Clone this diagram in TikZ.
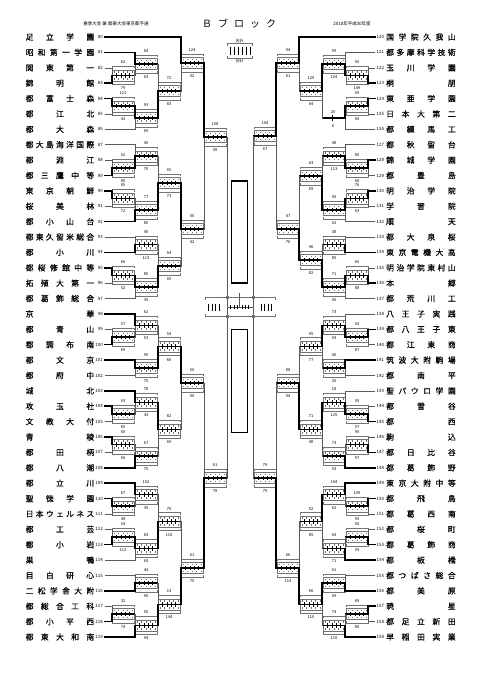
\documentclass[tikz,border=0pt]{standalone}
\usepackage{fontspec}
\setmainfont{Noto Sans CJK JP}
\newfontfamily\schoolfont[FakeBold=0.4]{Noto Sans CJK JP}
\makeatletter
\def\sp@end{\sp@end}
\def\sp@loop#1{\ifx#1\sp@end\else#1\hfill\expandafter\sp@loop\fi}
\newcommand\spreadname[2]{\makebox[#1][s]{\expandafter\sp@loop#2\sp@end\unskip}}
\makeatother
\tikzset{
  won/.style={line width=1.6pt,line cap=rect},
  lost/.style={line width=0.45pt,black!65},
  cell/.style={line width=0.35pt,black!55},
  score/.style={font=\fontsize{4}{4}\selectfont,inner sep=0pt},
  seed/.style={font=\fontsize{4.4}{5}\selectfont,inner sep=0pt},
  school/.style={font=\schoolfont\fontsize{7.8}{8}\selectfont,inner sep=0pt},
}
% score box: left edge, middle, upper score, lower score
\newcommand\scorebox[4]{%
  \draw[cell] (#1,#2-7) -- (#1,#2-9) -- (#1+22,#2-9) -- (#1+22,#2-7);
  \draw[cell] (#1,#2+7) -- (#1,#2+9) -- (#1+22,#2+9) -- (#1+22,#2+7);
  \draw[cell] (#1,#2-5.5) rectangle (#1+22,#2+5.5);
  \foreach \k in {0,...,4} {
    \draw[cell] (#1+2.2+4.4*\k,#2-4.2) -- ++(0,1.5);
    \draw[cell] (#1+2.2+4.4*\k,#2+2.7) -- ++(0,1.5);
  }
  \node[score] at (#1+11,#2-13) {#3};
  \node[score] at (#1+11,#2+13) {#4};
}
\newcommand\game[9]{%
  \coordinate (#1-in) at (#2+\gIn,#3);
  \coordinate (#1) at (#2+\gOut,#3);
  \scorebox{#2}{#3}{#6}{#7}
  \draw[#8] (#4) -| (#1-in);
  \draw[#9] (#5) -| (#1-in);
  \draw[won] (#1-in) -- (#1);
  \foreach \k in {1,...,4} \draw[line width=0.4pt] (#2+4.4*\k,#3-2.2) -- (#2+4.4*\k,#3+2.2);
}
\newcommand\gameL{\def\gIn{0}\def\gOut{22}\game}
\newcommand\gameR{\def\gIn{22}\def\gOut{0}\game}
% walkover, upper side goes on
\newcommand\walkR[7]{%
  \coordinate (#1-in) at (#2+22,#3);
  \coordinate (#1) at (#2,#3);
  \draw[lost] (#5) -| (#1-in);
  \draw[won] (#4) -| (#1-in);
  \draw[won] (#1-in) -- (#1);
  \draw[line width=0.5pt] (#2+9,#3-3) -- (#2+9,#3+3);
  \node[score] at (#2+10,#3-5.5) {#6};
  \node[score] at (#2+10,#3+8) {#7};
}
\begin{document}
\begin{tikzpicture}[x=1pt,y=-1pt]
  \fill[white] (0,0) rectangle (481,680);
  \useasboundingbox (0,0) rectangle (481,680);
  % headings
  \node[font=\fontsize{4.5}{5}\selectfont] (headL) at (116,23.5) {春季大会 兼 関東大会東京都予選};
  \node[font=\fontsize{10}{10}\selectfont,inner sep=0pt] (title) at (239,23.5) {\spreadname{74pt}{Ｂブロック}};
  \node[font=\fontsize{4.5}{5}\selectfont] (headR) at (352,23.5) {2018年平成30年度};
  % legend
  \node[score] (legT) at (239.5,41) {合計};
  \node[score] (legB) at (239.5,61) {合計};
  \draw[cell] (227,45.5) -- (227,43.5) -- (252,43.5) -- (252,45.5);
  \draw[cell] (227,56) -- (227,58) -- (252,58) -- (252,56);
  \foreach \x in {230.5,234.5,238.5,242.5,246.5,250} \draw[line width=0.45pt] (\x,46.5) -- (\x,55);
  % schools
  \foreach \i/\nm in {80/足立学園,81/昭和第一学園,82/関東第一,83/錦明館,84/都富士森,85/都江北,86/都大森,
      87/都大島海洋国際,88/都淵江,89/都三鷹中等,90/東京朝鮮,91/桜美林,92/都小山台,93/都東久留米総合,
      94/都小川,95/都桜修館中等,96/拓殖大第一,97/都葛飾総合,98/京華,99/都青山,100/都調布南,
      101/都文京,102/都府中,103/城北,104/攻玉社,105/文教大付,106/青稜,107/都田柄,108/都八潮,
      109/都立川,110/聖徳学園,111/日本ウェルネス,112/都工芸,113/都小岩,114/巣鴨,115/目白研心,
      116/二松学舎大附,117/都総合工科,118/都小平西,119/都東大和南} {
    \coordinate (t\i) at (105,{37+(\i-80)*15.3846});
    \node[seed,anchor=east] (n\i) at (103,{37+(\i-80)*15.3846}) {\i};
    \node[school,anchor=west] (s\i) at (25.5,{37+(\i-80)*15.3846}) {\spreadname{68.5pt}{\nm}};
  }
  \foreach \i/\nm in {120/国学院久我山,121/都多摩科学技術,122/玉川学園,123/桐朋,124/東亜学園,125/日本大第二,
      126/都練馬工,127/都秋留台,128/錦城学園,129/都豊島,130/明治学院,131/学習院,132/順天,133/都大泉桜,
      134/東京電機大高,135/明治学院東村山,136/本郷,137/都荒川工,138/八王子実践,139/都八王子東,
      140/都江東商,141/筑波大附駒場,142/都南平,143/聖パウロ学園,144/都雪谷,145/都西,146/駒込,
      147/都日比谷,148/都葛飾野,149/東京大附中等,150/都飛鳥,151/都葛西南,152/都桜町,153/都葛飾商,
      154/都板橋,155/都つばさ総合,156/都美原,157/暁星,158/都足立新田,159/早稲田実業} {
    \coordinate (t\i) at (375,{37+(\i-120)*15.3846});
    \node[seed,anchor=west] (n\i) at (376.5,{37+(\i-120)*15.3846}) {\i};
    \node[school,anchor=west] (s\i) at (386,{37+(\i-120)*15.3846}) {\spreadname{69.5pt}{\nm}};
  }
  % left half
  \gameL{l01}{112}{75.46}{t82}{t83}{62}{79}{lost}{won}
  \gameL{l02}{112}{106.23}{t84}{t85}{121}{42}{won}{lost}
  \gameL{l03}{135}{63.92}{t81}{l01}{64}{63}{won}{lost}
  \gameL{l04}{135}{117.77}{l02}{t86}{93}{65}{won}{lost}
  \gameL{l05}{158}{90.85}{l03}{l04}{72}{83}{lost}{won}
  \gameL{l06}{181}{63}{t80}{l05}{124}{32}{won}{lost}
  \gameL{l07}{112}{167.77}{t88}{t89}{52}{80}{lost}{won}
  \gameL{l08}{135}{156.23}{t87}{l07}{40}{70}{lost}{won}
  \gameL{l09}{112}{198.54}{t90}{t91}{85}{72}{won}{lost}
  \gameL{l10}{135}{210.08}{l09}{t92}{77}{80}{lost}{won}
  \gameL{l11}{158}{183.15}{l08}{l10}{65}{73}{lost}{won}
  \gameL{l12}{135}{244.69}{t93}{t94}{40}{113}{lost}{won}
  \gameL{l13}{112}{275.46}{t95}{t96}{66}{52}{won}{lost}
  \gameL{l14}{135}{287}{l13}{t97}{80}{39}{won}{lost}
  \gameL{l15}{158}{265.85}{l12}{l14}{54}{69}{lost}{won}
  \gameL{l16}{181}{229}{l11}{l15}{50}{42}{won}{lost}
  \gameL{l17}{204}{137}{l06}{l16}{108}{58}{won}{lost}
  \gameL{l18}{112}{337}{t99}{t100}{57}{69}{lost}{won}
  \gameL{l19}{135}{325.46}{t98}{l18}{62}{53}{won}{lost}
  \gameL{l20}{135}{367.77}{t101}{t102}{99}{75}{won}{lost}
  \gameL{l21}{158}{346.62}{l19}{l20}{54}{66}{lost}{won}
  \gameL{l22}{112}{413.92}{t104}{t105}{63}{65}{won}{lost}
  \gameL{l23}{135}{402.38}{t103}{l22}{78}{43}{won}{lost}
  \gameL{l24}{112}{444.69}{t106}{t107}{50}{66}{won}{lost}
  \gameL{l25}{135}{456.23}{l24}{t108}{67}{75}{lost}{won}
  \gameL{l26}{158}{429.31}{l23}{l25}{82}{69}{won}{lost}
  \gameL{l27}{181}{383}{l21}{l26}{50}{90}{won}{lost}
  \gameL{l28}{112}{506.23}{t110}{t111}{67}{38}{won}{lost}
  \gameL{l29}{135}{494.69}{t109}{l28}{102}{39}{won}{lost}
  \gameL{l30}{112}{537}{t112}{t113}{54}{112}{lost}{won}
  \gameL{l31}{135}{548.54}{l30}{t114}{83}{65}{won}{lost}
  \gameL{l32}{158}{521.62}{l29}{l31}{79}{110}{lost}{won}
  \gameL{l33}{135}{583.15}{t115}{t116}{44}{90}{lost}{won}
  \gameL{l34}{112}{613.92}{t117}{t118}{32}{74}{lost}{won}
  \gameL{l35}{135}{625.46}{l34}{t119}{50}{94}{lost}{won}
  \gameL{l36}{158}{604.31}{l33}{l35}{13}{144}{lost}{won}
  \gameL{l37}{181}{568}{l32}{l36}{61}{75}{lost}{won}
  \gameL{l38}{204}{478}{l27}{l37}{61}{78}{lost}{won}
  % right half
  \gameR{r01}{346}{75.46}{t122}{t123}{50}{149}{lost}{won}
  \gameR{r02}{346}{106.23}{t124}{t125}{59}{65}{won}{lost}
  \gameR{r03}{323}{63.92}{t121}{r01}{59}{124}{lost}{won}
  \walkR{r04}{323}{117.77}{r02}{t126}{20}{0}
  \gameR{r05}{300}{90.85}{r03}{r04}{129}{64}{won}{lost}
  \gameR{r06}{277}{63}{t120}{r05}{94}{61}{won}{lost}
  \gameR{r07}{346}{167.77}{t128}{t129}{80}{68}{won}{lost}
  \gameR{r08}{323}{156.23}{t127}{r07}{48}{113}{lost}{won}
  \gameR{r09}{346}{198.54}{t130}{t131}{76}{63}{won}{lost}
  \gameR{r10}{323}{210.08}{r09}{t132}{90}{52}{won}{lost}
  \gameR{r11}{300}{176}{r08}{r10}{63}{69}{lost}{won}
  \gameR{r12}{323}{244.69}{t133}{t134}{38}{85}{lost}{won}
  \gameR{r13}{346}{275.46}{t135}{t136}{60}{88}{lost}{won}
  \gameR{r14}{323}{287}{r13}{t137}{71}{56}{won}{lost}
  \gameR{r15}{300}{260}{r12}{r14}{46}{82}{lost}{won}
  \gameR{r16}{277}{229}{r11}{r15}{47}{76}{lost}{won}
  \gameR{r17}{254}{136}{r06}{r16}{104}{67}{won}{lost}
  \gameR{r18}{346}{337}{t139}{t140}{92}{87}{won}{lost}
  \gameR{r19}{323}{325.46}{t138}{r18}{73}{93}{lost}{won}
  \gameR{r20}{323}{367.77}{t141}{t142}{40}{25}{won}{lost}
  \gameR{r21}{300}{346.62}{r19}{r20}{95}{77}{won}{lost}
  \gameR{r22}{346}{413.92}{t144}{t145}{55}{57}{lost}{won}
  \gameR{r23}{323}{402.38}{t143}{r22}{18}{125}{lost}{won}
  \gameR{r24}{346}{444.69}{t146}{t147}{95}{97}{lost}{won}
  \gameR{r25}{323}{456.23}{r24}{t148}{73}{93}{lost}{won}
  \gameR{r26}{300}{429.31}{r23}{r25}{71}{48}{won}{lost}
  \gameR{r27}{277}{383}{r21}{r26}{88}{94}{lost}{won}
  \gameR{r28}{346}{506.23}{t150}{t151}{109}{59}{won}{lost}
  \gameR{r29}{323}{494.69}{t149}{r28}{104}{62}{won}{lost}
  \gameR{r30}{346}{537}{t152}{t153}{56}{59}{lost}{won}
  \gameR{r31}{323}{548.54}{r30}{t154}{64}{71}{lost}{won}
  \gameR{r32}{300}{521.62}{r29}{r31}{62}{85}{won}{lost}
  \gameR{r33}{323}{583.15}{t155}{t156}{61}{59}{lost}{won}
  \gameR{r34}{346}{613.92}{t157}{t158}{69}{80}{won}{lost}
  \gameR{r35}{323}{625.46}{r34}{t159}{74}{110}{lost}{won}
  \gameR{r36}{300}{604.31}{r33}{r35}{66}{110}{won}{lost}
  \gameR{r37}{277}{568}{r32}{r36}{66}{114}{lost}{won}
  \gameR{r38}{254}{478}{r27}{r37}{79}{75}{lost}{won}
  % semifinals and final
  \coordinate (semiL) at (227,307);
  \coordinate (semiR) at (253,307);
  \coordinate (champ) at (239.5,293);
  \draw[lost] (l17) -| (semiL);
  \draw[lost] (l38) -| (semiL);
  \draw[lost] (r17) -| (semiR);
  \draw[lost] (r38) -| (semiR);
  \draw[lost] (semiL) -- (semiR);
  \draw[lost] (champ) -- (champ |- semiL);
  \draw[cell] (205,299.5) -- (205,297.3) -- (275,297.3) -- (275,299.5);
  \draw[cell] (205,314) -- (205,316) -- (275,316) -- (275,314);
  \foreach \x in {227,253} {
    \draw[cell] (\x-1,296.3) rectangle (\x+1,298.3);
    \draw[cell] (\x-1,315) rectangle (\x+1,317);
  }
  \foreach \x in {208.5,212,215.5,219,261,264.5,268,271.5} \draw[line width=0.45pt] (\x,303.5) -- (\x,310.5);
  \foreach \x in {230.5,234,237,242,245,248.5} \draw[line width=0.45pt] (\x,305) -- (\x,309);
  % empty panels
  \node[draw,line width=1.2pt,minimum width=16pt,minimum height=102pt,inner sep=0pt] (panelT) at (239.5,232) {};
  \node[draw,line width=1.2pt,minimum width=16pt,minimum height=103pt,inner sep=0pt] (panelB) at (239.5,381) {};
\end{tikzpicture}
\end{document}
